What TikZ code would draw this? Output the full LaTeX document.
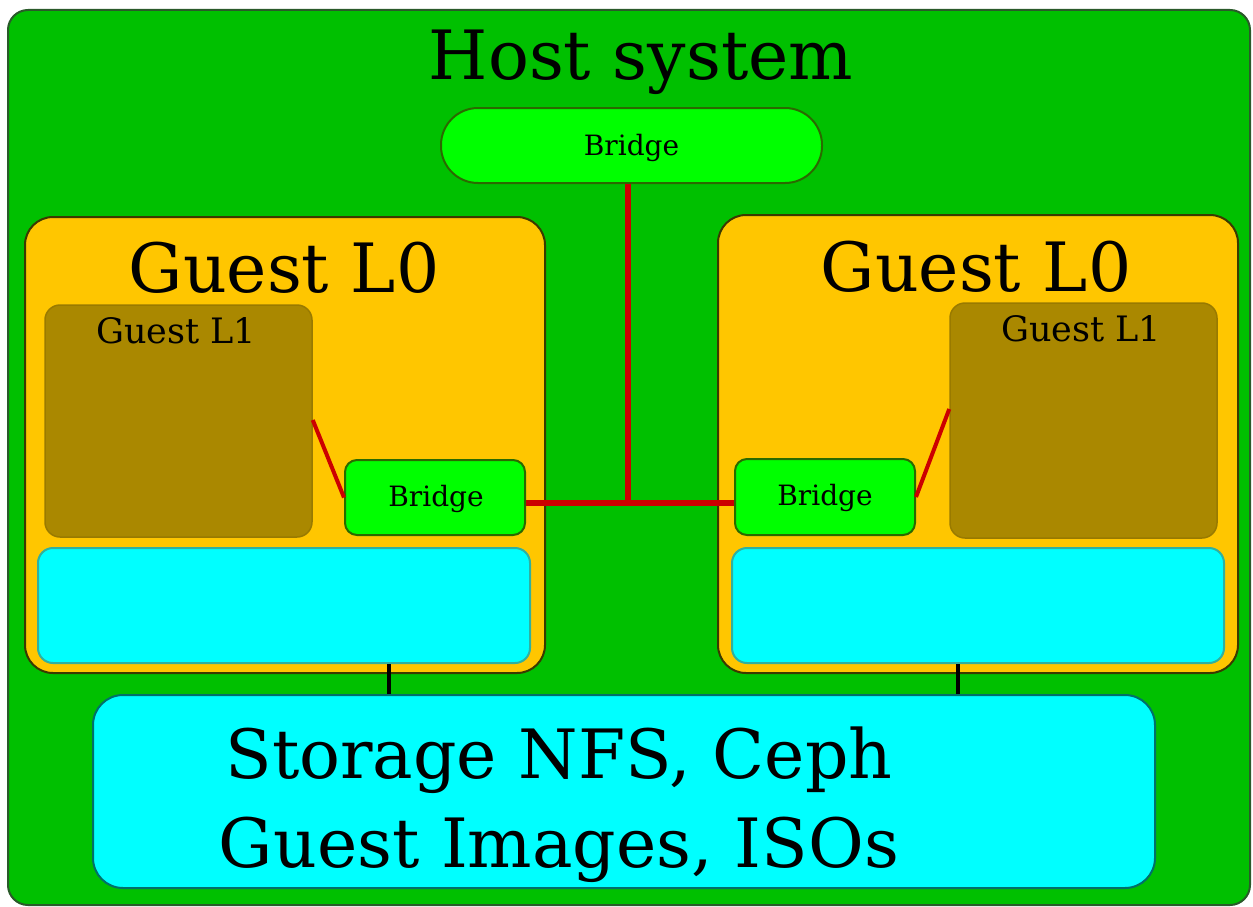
\documentclass[tikz,border=0pt]{standalone}
\usepackage{fontspec}
\setmainfont{DejaVu Serif}
\definecolor{hostg}{HTML}{00C000}
\definecolor{hostb}{HTML}{2A5A2A}
\definecolor{gold}{HTML}{FFC600}
\definecolor{goldb}{HTML}{3A3A00}
\definecolor{olive}{HTML}{AA8800}
\definecolor{oliveb}{HTML}{997A00}
\definecolor{lime}{HTML}{00FF00}
\definecolor{limeb}{HTML}{2A6A00}
\definecolor{aqua}{HTML}{00FFFF}
\definecolor{cyanb}{HTML}{30B0A0}
\definecolor{storb}{HTML}{00706A}
\definecolor{wire}{HTML}{CC0000}
\tikzset{
  box/.style={draw, line width=2pt, inner sep=0pt, rectangle},
  host/.style={box, fill=hostg, draw=hostb, rounded corners=20pt},
  gzero/.style={box, fill=gold, draw=goldb, rounded corners=28pt},
  gone/.style={box, fill=olive, draw=oliveb, rounded corners=15pt, line width=1.5pt},
  bridgebox/.style={box, fill=lime, draw=limeb, rounded corners=12pt},
  disk/.style={box, fill=aqua, draw=cyanb, rounded corners=15pt},
  store/.style={box, fill=aqua, draw=storb, rounded corners=30pt},
  lbl/.style={anchor=base, inner sep=0pt},
  redwire/.style={draw=wire, line width=5.5pt},
  blackwire/.style={draw=black, line width=4pt}
}
\begin{document}
\begin{tikzpicture}[x=1pt,y=-1pt]
\useasboundingbox[fill=white] (0,0) rectangle (1253,907);
\node[host, minimum width=1242pt, minimum height=895pt] (host) at (629,457.5) {};
\node[lbl] (hosttitle) at (641,80) {\fontsize{68}{68}\selectfont Host system};
\node[bridgebox, rounded corners=37pt, minimum width=381pt, minimum height=75pt] (tb) at (631.5,145.5) {};
\node[lbl] (tbl) at (631.5,155) {\fontsize{28}{28}\selectfont Bridge};

\node[gzero, minimum width=520pt, minimum height=456pt] (lg0) at (285,445) {};
\node[lbl] (lg0t) at (284,292) {\fontsize{68}{68}\selectfont Guest L0};
\node[gone, minimum width=267pt, minimum height=232pt] (lg1) at (178.5,421) {};
\node[lbl] (lg1t) at (176,343) {\fontsize{35}{35}\selectfont Guest L1};
\node[bridgebox, minimum width=180pt, minimum height=75pt] (lb) at (435,497.5) {};
\node[lbl] (lbt) at (436,506) {\fontsize{28}{28}\selectfont Bridge};
\node[disk, minimum width=492pt, minimum height=115pt] (ld) at (284,605.5) {};

\node[gzero, minimum width=520pt, minimum height=458pt] (rg0) at (978,444) {};
\node[lbl] (rg0t) at (976,291) {\fontsize{68}{68}\selectfont Guest L0};
\node[gone, minimum width=267pt, minimum height=235pt] (rg1) at (1083.5,420.5) {};
\node[lbl] (rg1t) at (1081,341) {\fontsize{35}{35}\selectfont Guest L1};
\node[bridgebox, minimum width=180pt, minimum height=76pt] (rb) at (825,497) {};
\node[lbl] (rbt) at (825,505) {\fontsize{28}{28}\selectfont Bridge};
\node[disk, minimum width=492pt, minimum height=115pt] (rd) at (978,605.5) {};

\node[store, minimum width=1062pt, minimum height=193pt] (st) at (624,791.5) {};
\node[lbl] (st1) at (559,778) {\fontsize{68}{68}\selectfont Storage NFS, Ceph};
\node[lbl] (st2) at (559,867) {\fontsize{68}{68}\selectfont Guest Images, ISOs};

\coordinate (j) at (628,503);
\draw[redwire] (tb.south -| j) -- (j);
\draw[redwire] (lb.east |- j) -- (rb.west |- j);
\draw[redwire, line width=4pt] (lg1.east |- 0,420) -- (lb.west);
\draw[redwire, line width=4pt] (rb.east) -- (rg1.west |- 0,409);
\draw[blackwire] (ld.south -| 389,0) -- (st.north -| 389,0);
\draw[blackwire] (rd.south -| 958,0) -- (st.north -| 958,0);
\end{tikzpicture}
\end{document}
